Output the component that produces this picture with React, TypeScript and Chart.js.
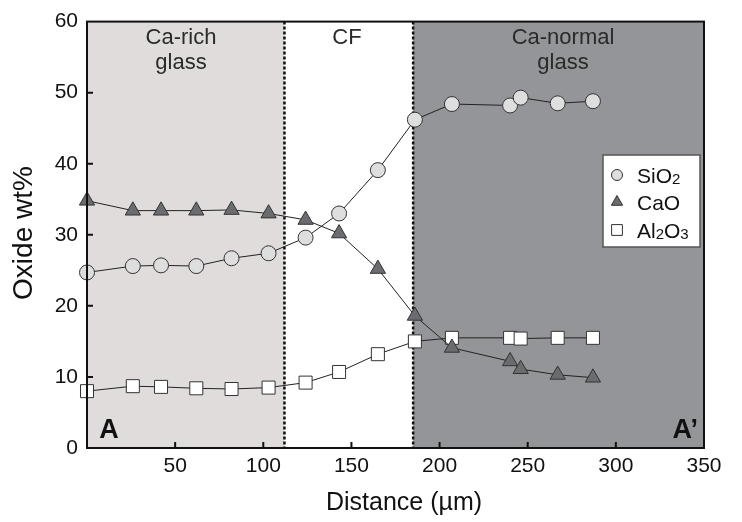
import React, { useEffect, useRef } from "react";
import { Chart, registerables } from "chart.js";

Chart.register(...registerables);

// Distance along the A–A' traverse (µm)
const distance = [0, 26, 42, 62, 82, 103, 124, 143, 165, 186, 207, 240, 246, 267, 287];
// Oxide contents (wt%)
const sio2 = [24.7, 25.6, 25.7, 25.6, 26.7, 27.4, 29.6, 33.0, 39.1, 46.2, 48.4, 48.2, 49.3, 48.5, 48.8];
const cao = [34.8, 33.4, 33.4, 33.4, 33.5, 33.0, 32.1, 30.2, 25.2, 18.6, 14.1, 12.2, 11.1, 10.3, 9.9];
const al2o3 = [8.0, 8.7, 8.6, 8.4, 8.3, 8.5, 9.2, 10.7, 13.2, 15.0, 15.5, 15.5, 15.4, 15.5, 15.5];

// Zone boundaries (µm) and zone names
const zoneBounds = [112, 185];
const zoneLabels = [["Ca-rich", "glass"], ["CF"], ["Ca-normal", "glass"]];

const xTicks = [50, 100, 150, 200, 250, 300, 350];
const yTicks = [0, 10, 20, 30, 40, 50, 60];

const FONT = "'Liberation Sans', Arial, Helvetica, sans-serif";

const series = [
  { label: "SiO", sub: "2", rest: "", data: sio2, style: "circle", fill: "#dedede", radius: 7.5, legendRadius: 5.5 },
  { label: "CaO", sub: "", rest: "", data: cao, style: "triangle", fill: "#6b6c6f", radius: 8.8, legendRadius: 6.5 },
  { label: "Al", sub: "2", rest: "O", sub2: "3", data: al2o3, style: "rect", fill: "#ffffff", radius: 9.2, legendRadius: 7.5 },
];

const decorPlugin = {
  id: "decor",
  beforeDatasetsDraw(chart: any) {
    const { ctx, chartArea: a, scales } = chart;
    const x = scales.x;
    const b0 = x.getPixelForValue(zoneBounds[0]);
    const b1 = x.getPixelForValue(zoneBounds[1]);
    ctx.save();
    ctx.fillStyle = "#e0dcdc";
    ctx.fillRect(a.left, a.top, b0 - a.left, a.bottom - a.top);
    ctx.fillStyle = "#949598";
    ctx.fillRect(b1, a.top, a.right - b1, a.bottom - a.top);

    // dotted zone boundaries
    ctx.strokeStyle = "#111";
    ctx.lineWidth = 2.5;
    ctx.setLineDash([3, 2]);
    for (const p of [b0, b1]) {
      ctx.beginPath();
      ctx.moveTo(p, a.top);
      ctx.lineTo(p, a.bottom);
      ctx.stroke();
    }
    ctx.setLineDash([]);

    // zone names
    ctx.fillStyle = "#2a2a2a";
    ctx.font = `22px ${FONT}`;
    ctx.textAlign = "center";
    ctx.textBaseline = "alphabetic";
    const centers = [181, 347, 563];
    zoneLabels.forEach((lines, i) => {
      lines.forEach((t, j) => ctx.fillText(t, centers[i], 44 + j * 25));
    });

    // traverse end markers
    ctx.fillStyle = "#111";
    ctx.font = `bold 27px ${FONT}`;
    ctx.textAlign = "center";
    ctx.fillText("A", 109, 438);
    ctx.textAlign = "right";
    ctx.fillText("A\u2019", 698, 438);
    ctx.restore();
  },
  afterDatasetsDraw(chart: any) {
    const { ctx, chartArea: a, scales } = chart;
    ctx.save();
    // frame
    ctx.strokeStyle = "#111";
    ctx.lineWidth = 2;
    ctx.strokeRect(a.left, a.top, a.right - a.left, a.bottom - a.top);
    // inward ticks
    ctx.beginPath();
    for (const v of xTicks) {
      if (v >= 350) continue;
      const px = scales.x.getPixelForValue(v);
      ctx.moveTo(px, a.bottom);
      ctx.lineTo(px, a.bottom - 6);
    }
    for (const v of yTicks) {
      if (v <= 0 || v >= 60) continue;
      const py = scales.y.getPixelForValue(v);
      ctx.moveTo(a.left, py);
      ctx.lineTo(a.left + 6, py);
    }
    ctx.stroke();

    // axis titles
    ctx.fillStyle = "#111";
    ctx.font = `25px ${FONT}`;
    ctx.textAlign = "center";
    ctx.textBaseline = "middle";
    ctx.fillText("Distance (\u00b5m)", 404, 503);
    ctx.save();
    ctx.font = `28px ${FONT}`;
    ctx.translate(24, 233);
    ctx.rotate(-Math.PI / 2);
    ctx.fillText("Oxide wt%", 0, 0);
    ctx.restore();

    // legend
    const lx = 603, ly = 155, lw = 97, lh = 92;
    ctx.fillStyle = "#ffffff";
    ctx.fillRect(lx, ly, lw, lh);
    ctx.strokeStyle = "#555";
    ctx.lineWidth = 1.5;
    ctx.strokeRect(lx, ly, lw, lh);
    const rows = [175, 202, 230];
    const baselines = [183, 210, 238];
    series.forEach((s: any, i) => {
      const cy = rows[i];
      ctx.lineWidth = 1;
      ctx.strokeStyle = "#333";
      ctx.fillStyle = s.fill;
      ctx.beginPath();
      if (s.style === "circle") {
        ctx.arc(617, cy, s.legendRadius, 0, Math.PI * 2);
      } else if (s.style === "triangle") {
        const r = s.legendRadius;
        ctx.moveTo(617, cy - r);
        ctx.lineTo(617 + r * 0.866, cy + r * 0.5);
        ctx.lineTo(617 - r * 0.866, cy + r * 0.5);
        ctx.closePath();
      } else {
        const h = s.legendRadius * 0.72;
        ctx.rect(617 - h, cy - h, 2 * h, 2 * h);
      }
      ctx.fill();
      ctx.stroke();

      ctx.fillStyle = "#111";
      ctx.textAlign = "left";
      ctx.textBaseline = "alphabetic";
      let tx = 637;
      const by = baselines[i];
      const parts: [string, boolean][] = [[s.label, false]];
      if (s.sub) parts.push([s.sub, true]);
      if (s.rest) parts.push([s.rest, false]);
      if (s.sub2) parts.push([s.sub2, true]);
      for (const [t, small] of parts) {
        ctx.font = small ? `15px ${FONT}` : `21px ${FONT}`;
        ctx.fillText(t, tx, small ? by + 1 : by);
        tx += ctx.measureText(t).width;
      }
    });
    ctx.restore();
  },
};

export default function App() {
  const ref = useRef<HTMLCanvasElement | null>(null);

  useEffect(() => {
    if (!ref.current) return;
    const chart = new Chart(ref.current, {
      type: "scatter",
      data: {
        datasets: series.map((s) => ({
          label: s.label + (s.sub || "") + (s.rest || "") + ((s as any).sub2 || ""),
          data: distance.map((d, i) => ({ x: d, y: s.data[i] })),
          showLine: true,
          borderColor: "#222",
          borderWidth: 1,
          pointStyle: s.style as any,
          pointRadius: s.radius,
          pointBackgroundColor: s.fill,
          pointBorderColor: "#333",
          pointBorderWidth: 1,
          clip: false as any,
        })),
      },
      options: {
        responsive: false,
        animation: false,
        events: [],
        layout: { padding: { top: 16, right: 38, left: 0, bottom: 0 } },
        plugins: { legend: { display: false }, tooltip: { enabled: false } },
        scales: {
          x: {
            type: "linear",
            min: 0,
            max: 350,
            afterFit: (s: any) => { s.height = 74; },
            afterBuildTicks: (s: any) => { s.ticks = xTicks.map((v) => ({ value: v })); },
            grid: { display: false, drawTicks: false },
            border: { display: false },
            ticks: {
              autoSkip: false,
              maxRotation: 0,
              padding: 6,
              color: "#111",
              font: { family: FONT, size: 21 },
            },
          },
          y: {
            type: "linear",
            min: 0,
            max: 60,
            afterFit: (s: any) => { s.width = 87; },
            afterBuildTicks: (s: any) => { s.ticks = yTicks.map((v) => ({ value: v })); },
            grid: { display: false, drawTicks: false },
            border: { display: false },
            ticks: {
              padding: 9,
              color: "#111",
              font: { family: FONT, size: 21 },
            },
          },
        },
      },
      plugins: [decorPlugin],
    });
    return () => chart.destroy();
  }, []);

  return (
    <div style={{ position: "fixed", left: 0, top: 0, width: 742, height: 522, background: "#fff" }}>
      <canvas ref={ref} width={742} height={522} style={{ width: 742, height: 522, display: "block" }} />
    </div>
  );
}
